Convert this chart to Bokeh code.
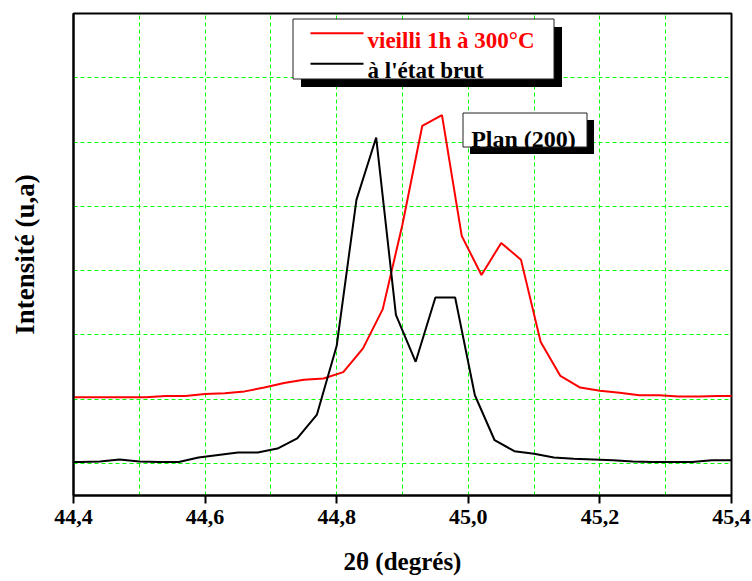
from bokeh.plotting import figure
from bokeh.models import Range1d, FixedTicker, CustomJSTickFormatter, BoxAnnotation, Label
from bokeh.embed import file_html
from bokeh.resources import INLINE

# --- data: XRD (200) peak, intensity in arbitrary units -------------------
two_theta_aged = [44.39, 44.42, 44.45, 44.48, 44.51, 44.54, 44.57, 44.60, 44.63, 44.66,
                  44.69, 44.72, 44.75, 44.78, 44.81, 44.84, 44.87, 44.90, 44.93, 44.96,
                  44.99, 45.02, 45.05, 45.08, 45.11, 45.14, 45.17, 45.20, 45.23, 45.26,
                  45.29, 45.32, 45.35, 45.38, 45.41]
intensity_aged = [1.03, 1.03, 1.03, 1.03, 1.03, 1.05, 1.05, 1.08, 1.09, 1.12,
                  1.18, 1.25, 1.30, 1.32, 1.42, 1.79, 2.40, 3.72, 5.25, 5.42,
                  3.54, 2.93, 3.43, 3.17, 1.89, 1.36, 1.18, 1.13, 1.10, 1.06,
                  1.06, 1.04, 1.04, 1.05, 1.05]

two_theta_raw = [44.38, 44.41, 44.44, 44.47, 44.50, 44.53, 44.56, 44.59, 44.62, 44.65,
                 44.68, 44.71, 44.74, 44.77, 44.80, 44.83, 44.86, 44.89, 44.92, 44.95,
                 44.98, 45.01, 45.04, 45.07, 45.10, 45.13, 45.16, 45.19, 45.22, 45.25,
                 45.28, 45.31, 45.34, 45.37, 45.40]
intensity_raw = [0.02, 0.02, 0.03, 0.06, 0.03, 0.02, 0.02, 0.09, 0.13, 0.17,
                 0.17, 0.23, 0.39, 0.76, 1.83, 4.10, 5.07, 2.31, 1.58, 2.58,
                 2.58, 1.06, 0.36, 0.19, 0.15, 0.09, 0.07, 0.06, 0.05, 0.03,
                 0.02, 0.02, 0.02, 0.05, 0.05]

x_ticks = [44.4, 44.6, 44.8, 45.0, 45.2, 45.4]
x_grid = [44.4, 44.5, 44.6, 44.7, 44.8, 44.9, 45.0, 45.1, 45.2, 45.3, 45.4]
y_grid = [0, 1, 2, 3, 4, 5, 6, 7]

label_aged = "vieilli 1h à 300°C"
label_raw = "à l'état brut"
plane_label = "Plan (200)"

# --- layout ----------------------------------------------------------------
W, H = 752, 581
FL, FR, FT, FB = 73, 21, 13, 86
X0, X1, Y0, Y1 = 44.4, 45.4, -0.5, 7.0
FW, FH = W - FL - FR, H - FT - FB

def dx(px):
    return X0 + (px - FL) / FW * (X1 - X0)

def dy(py):
    return Y1 - (py - FT) / FH * (Y1 - Y0)

FONT = "Liberation Serif"
GREEN = "#00ff00"

p = figure(width=W, height=H, output_backend="svg", toolbar_location=None,
           x_range=Range1d(X0, X1), y_range=Range1d(Y0, Y1),
           min_border_left=FL, min_border_right=FR,
           min_border_top=FT, min_border_bottom=FB)
p.background_fill_color = "white"
p.border_fill_color = "white"
p.outline_line_color = "black"
p.outline_line_width = 2

# x axis
p.xaxis.ticker = FixedTicker(ticks=x_ticks, minor_ticks=[])
p.xaxis.formatter = CustomJSTickFormatter(code="return tick.toFixed(1).replace('.', ',');")
p.xaxis.axis_line_width = 2
p.xaxis.major_tick_line_width = 2
p.xaxis.major_tick_out = 8
p.xaxis.major_tick_in = 0
p.xaxis.minor_tick_line_color = None
p.xaxis.major_label_text_font = FONT
p.xaxis.major_label_text_font_style = "bold"
p.xaxis.major_label_text_font_size = "22px"
p.xaxis.major_label_text_color = "black"
p.xaxis.major_label_standoff = 6
p.xaxis.axis_label = "2θ (degrés)"
p.xaxis.axis_label_text_font = FONT
p.xaxis.axis_label_text_font_style = "bold"
p.xaxis.axis_label_text_font_size = "25px"
p.xaxis.axis_label_text_color = "black"
p.xaxis.axis_label_standoff = 21

# y axis: line and title only
p.yaxis.ticker = FixedTicker(ticks=[], minor_ticks=[])
p.yaxis.axis_line_width = 2
p.yaxis.major_tick_line_color = None
p.yaxis.minor_tick_line_color = None
p.yaxis.axis_label = "Intensité (u,a)"
p.yaxis.axis_label_text_font = FONT
p.yaxis.axis_label_text_font_style = "bold"
p.yaxis.axis_label_text_font_size = "27px"
p.yaxis.axis_label_text_color = "black"
p.yaxis.axis_label_standoff = 34

# dashed green grid
p.xgrid.ticker = FixedTicker(ticks=x_grid)
p.ygrid.ticker = FixedTicker(ticks=y_grid)
for g in (p.xgrid, p.ygrid):
    g.grid_line_color = GREEN
    g.grid_line_width = 1
    g.grid_line_dash = "4 3"

# curves
p.line(two_theta_aged, intensity_aged, line_color="#ff0000", line_width=2)
p.line(two_theta_raw, intensity_raw, line_color="black", line_width=2)

# framed boxes with a drop shadow
def shadow_box(l, r, t, b, off):
    p.add_layout(BoxAnnotation(left=dx(l + off), right=dx(r + off), top=dy(t + off), bottom=dy(b + off),
                               fill_color="black", fill_alpha=1, line_color=None))
    p.add_layout(BoxAnnotation(left=dx(l), right=dx(r), top=dy(t), bottom=dy(b),
                               fill_color="white", fill_alpha=1, line_color="#222222",
                               line_alpha=1, line_width=1, line_dash="solid"))

def bar(l, r, yc, color):
    p.add_layout(BoxAnnotation(left=dx(l), right=dx(r), top=dy(yc - 1), bottom=dy(yc + 1),
                               fill_color=color, fill_alpha=1, line_color=None))

# legend
shadow_box(292.5, 553.5, 18.5, 78.5, 8)
bar(310, 363, 32.7, "#ff0000")
bar(310, 363, 63.3, "black")
p.add_layout(Label(x=dx(367), y=dy(40), text=label_aged, text_font=FONT, text_font_style="bold",
                   text_font_size="23px", text_color="#ff0000", text_baseline="alphabetic"))
p.add_layout(Label(x=dx(367), y=dy(70), text=label_raw, text_font=FONT, text_font_style="bold",
                   text_font_size="23px", text_color="black", text_baseline="alphabetic"))

# plane annotation
shadow_box(462.5, 586.5, 112.5, 146.5, 7)
p.add_layout(Label(x=dx(523), y=dy(138), text=plane_label, text_font=FONT, text_font_style="bold",
                   text_font_size="24px", text_color="black", text_align="center",
                   text_baseline="alphabetic"))

open("out.html", "w").write(file_html(p, INLINE))
